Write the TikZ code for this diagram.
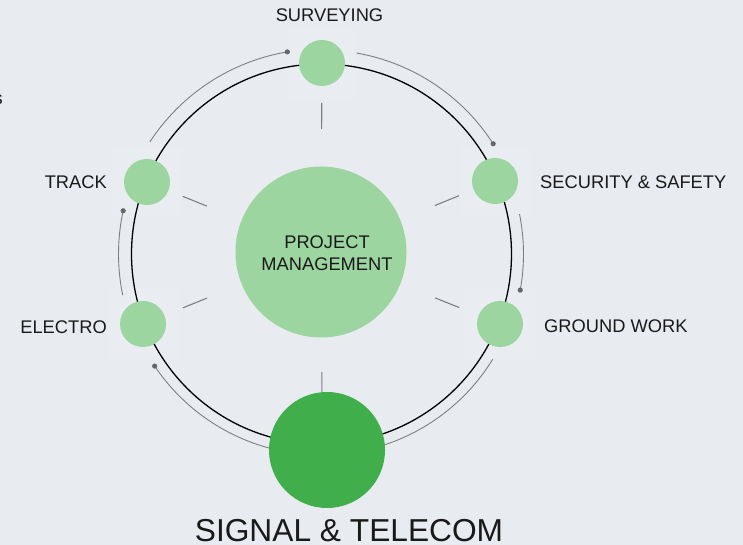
\documentclass[tikz,border=0pt]{standalone}
\usepackage{fontspec}
\setmainfont{Liberation Sans}
\usetikzlibrary{calc}
\definecolor{bgcol}{HTML}{E8EBF0}
\definecolor{lightgreen}{HTML}{9DD5A1}
\definecolor{darkgreen}{HTML}{40AE4A}
\definecolor{arcgrey}{HTML}{7F7F7F}
\definecolor{dotgrey}{HTML}{676767}
\newcommand\outerarc[3]{\draw[greyarc] ($(ring)+(#1:#3)$) arc[start angle=#1, end angle=#2, radius=#3];}
\tikzset{
  smallball/.style={circle, fill=lightgreen, inner sep=0pt, minimum size=46pt},
  pmball/.style={circle, fill=lightgreen, inner sep=0pt, minimum size=171pt},
  signalball/.style={circle, fill=darkgreen, inner sep=0pt, minimum size=116pt},
  imgbox/.style={fill=bgcol!94!white, minimum size=70pt, inner sep=0pt},
  ringline/.style={line width=1.3pt, black},
  greyarc/.style={line width=0.9pt, arcgrey},
  tipdot/.style={fill=dotgrey},
  tick/.style={line width=1.1pt, arcgrey},
  lbl/.style={font=\fontsize{18.3}{22}\selectfont, inner sep=0pt, text=black!90},
  biglbl/.style={font=\fontsize{31.7}{38}\selectfont, inner sep=0pt, text=black!90}
}

\begin{document}
\begin{tikzpicture}[x=1pt, y=1pt]
		%%%%% START %%%%%
		
		\fill[bgcol] (0,0) rectangle (743,545);
		\useasboundingbox (0,0) rectangle (743,545);
		
		\coordinate (ring) at (321.5,291);
		
		\node[imgbox] at (322,482) {};
		\node[imgbox] at (147,363) {};
		\node[imgbox] at (143,221) {};
		\node[imgbox] at (495,364) {};
		\node[imgbox] at (500,221) {};
		
		\draw[ringline] (ring) circle (190pt);
		
		\outerarc{99.6}{146.9}{205pt}
		\outerarc{80.1}{32.7}{204pt}
		\outerarc{11.4}{-10.3}{202pt}
		\outerarc{-31.6}{-80}{201pt}
		\outerarc{213.9}{260}{201pt}
		\outerarc{167.7}{191.7}{203pt}
		
		\fill[tipdot] ($(ring)+(99.6:205pt)$) circle (2.6pt);
		\fill[tipdot] ($(ring)+(32.7:204pt)$) circle (2.6pt);
		\fill[tipdot] ($(ring)+(-10.3:202pt)$) circle (2.6pt);
		\fill[tipdot] ($(ring)+(213.9:201pt)$) circle (2.6pt);
		\fill[tipdot] ($(ring)+(167.7:203pt)$) circle (2.6pt);
		
		\node[pmball] (pm) at (321,293) {};
		\node[smallball] (surv) at (322,482) {};
		\node[smallball] (track) at (147,363) {};
		\node[smallball] (electro) at (143,221) {};
		\node[smallball] (secur) at (495,364) {};
		\node[smallball] (ground) at (500,221) {};
		\node[signalball] (signal) at (327,95) {};
		
		\foreach \n in {surv,track,electro,secur,ground}
			\draw[tick] ($(pm)!123pt!(\n)$) -- ($(pm)!149pt!(\n)$);
		\coordinate (below) at ($(pm)+(1,-150)$);
		\draw[tick] ($(pm)!120pt!(below)$) -- ($(pm)!140pt!(below)$);
		
		\node[lbl, align=center] (pmtext) at (327,291.5) {PROJECT\\MANAGEMENT};
		\node[lbl, anchor=base] (survtext) at (329.5,523) {SURVEYING};
		\node[lbl, anchor=base east] (tracktext) at (107,356) {TRACK};
		\node[lbl, anchor=base east] (electrotext) at (107,211) {ELECTRO};
		\node[lbl, anchor=base west] (securtext) at (540,356) {SECURITY \& SAFETY};
		\node[lbl, anchor=base west] (groundtext) at (544,212) {GROUND WORK};
		\node[biglbl, anchor=base] (signaltext) at (349,3.5) {SIGNAL \& TELECOM};
		\node[lbl, anchor=base east] (cuttext) at (3,440) {s};
		
		%%%%% END %%%%%
	\end{tikzpicture}
\end{document}
